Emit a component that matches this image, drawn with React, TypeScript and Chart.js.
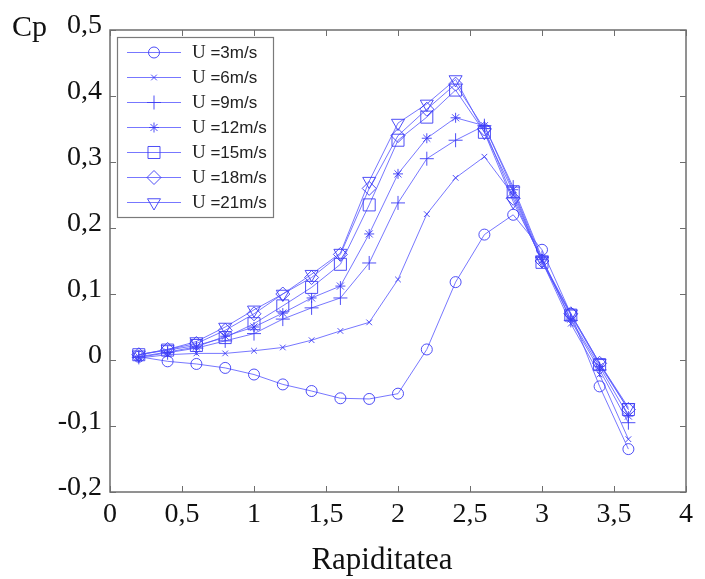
import React, { useEffect, useRef } from "react";
import { Chart, registerables } from "chart.js";
import { drawPoint } from "chart.js/helpers";

Chart.register(...registerables);

const rapiditatea = [0.2, 0.4, 0.6, 0.8, 1.0, 1.2, 1.4, 1.6, 1.8, 2.0, 2.2, 2.4, 2.6, 2.8, 3.0, 3.2, 3.4, 3.6];

const u3 = [0.005, -0.002, -0.006, -0.012, -0.022, -0.037, -0.047, -0.058, -0.059, -0.051, 0.016, 0.118, 0.19, 0.22, 0.167, 0.07, -0.04, -0.135];
const u6 = [0.003, 0.008, 0.01, 0.01, 0.014, 0.019, 0.03, 0.044, 0.057, 0.122, 0.221, 0.276, 0.308, 0.25, 0.15, 0.055, -0.022, -0.12];
const u9 = [0.004, 0.011, 0.018, 0.029, 0.04, 0.062, 0.079, 0.094, 0.147, 0.238, 0.305, 0.333, 0.355, 0.262, 0.155, 0.06, -0.015, -0.095];
const u12 = [0.005, 0.012, 0.02, 0.036, 0.05, 0.071, 0.094, 0.112, 0.191, 0.282, 0.336, 0.367, 0.355, 0.258, 0.152, 0.062, -0.01, -0.085];
const u15 = [0.008, 0.015, 0.022, 0.034, 0.055, 0.082, 0.11, 0.145, 0.235, 0.333, 0.368, 0.409, 0.345, 0.255, 0.148, 0.068, -0.007, -0.075];
const u18 = [0.008, 0.016, 0.025, 0.045, 0.07, 0.1, 0.125, 0.16, 0.26, 0.34, 0.38, 0.418, 0.35, 0.245, 0.15, 0.07, -0.005, -0.075];
const u21 = [0.008, 0.016, 0.028, 0.05, 0.076, 0.1, 0.13, 0.162, 0.271, 0.359, 0.388, 0.425, 0.345, 0.24, 0.152, 0.07, -0.005, -0.072];

const seriesLabels = ["U =3m/s", "U =6m/s", "U =9m/s", "U =12m/s", "U =15m/s", "U =18m/s", "U =21m/s"];
const seriesValues = [u3, u6, u9, u12, u15, u18, u21];

const xTickValues = [0, 0.5, 1, 1.5, 2, 2.5, 3, 3.5, 4];
const yTickValues = [-0.2, -0.1, 0, 0.1, 0.2, 0.3, 0.4, 0.5];
const xTitle = "Rapiditatea";
const yTitle = "Cp";

const markerStyles = [
  { pointStyle: "circle", radius: 5.5, rotation: 0 },
  { pointStyle: "crossRot", radius: 4, rotation: 0 },
  { pointStyle: "cross", radius: 7, rotation: 0 },
  { pointStyle: "star", radius: 5, rotation: 0 },
  { pointStyle: "rect", radius: 8.5, rotation: 0 },
  { pointStyle: "rectRot", radius: 7, rotation: 0 },
  { pointStyle: "triangle", radius: 7.5, rotation: 180 },
];

const LINE = "rgba(85,85,255,0.8)";
const MARK = "rgba(60,60,245,0.9)";
const SERIF = "'Liberation Serif', 'Times New Roman', serif";
const SANS = "'Liberation Sans', Arial, sans-serif";

const fmt = (v: number) => {
  const r = Math.round(v * 10) / 10;
  return String(r).replace(".", ",");
};

const framePlugin = {
  id: "frame",
  afterDraw(chart: any) {
    const ctx = chart.ctx;
    const { left, right, top, bottom } = chart.chartArea;
    const xs = chart.scales.x;
    const ys = chart.scales.y;
    ctx.save();
    // box
    ctx.strokeStyle = "#6e6e6e";
    ctx.lineWidth = 1.5;
    ctx.strokeRect(left, top, right - left, bottom - top);
    // inward ticks
    ctx.lineWidth = 1;
    ctx.beginPath();
    const tl = 6;
    xTickValues.forEach((v) => {
      const px = Math.round(xs.getPixelForValue(v)) + 0.5;
      ctx.moveTo(px, bottom);
      ctx.lineTo(px, bottom - tl);
      ctx.moveTo(px, top);
      ctx.lineTo(px, top + tl);
    });
    yTickValues.forEach((v) => {
      const py = Math.round(ys.getPixelForValue(v)) + 0.5;
      ctx.moveTo(left, py);
      ctx.lineTo(left + tl, py);
      ctx.moveTo(right, py);
      ctx.lineTo(right - tl, py);
    });
    ctx.stroke();

    // legend
    const lx = 117, ly = 37, lw = 156, lh = 180;
    ctx.fillStyle = "#ffffff";
    ctx.fillRect(lx, ly, lw, lh);
    ctx.strokeStyle = "#7a7a7a";
    ctx.lineWidth = 1.2;
    ctx.strokeRect(lx + 0.5, ly + 0.5, lw, lh);
    seriesLabels.forEach((label, i) => {
      const cy = 52.5 + i * 25;
      ctx.strokeStyle = LINE;
      ctx.lineWidth = 1;
      ctx.beginPath();
      ctx.moveTo(127, cy);
      ctx.lineTo(181, cy);
      ctx.stroke();
      const m = markerStyles[i];
      ctx.strokeStyle = MARK;
      ctx.fillStyle = "rgba(0,0,0,0)";
      ctx.lineWidth = 1;
      drawPoint(ctx, { pointStyle: m.pointStyle, radius: m.radius, rotation: m.rotation, borderWidth: 1 }, 154, cy);
      ctx.fillStyle = "#222";
      ctx.textBaseline = "middle";
      ctx.textAlign = "left";
      const first = label.slice(0, 1);
      const rest = label.slice(1);
      ctx.font = `19px ${SERIF}`;
      ctx.fillText(first, 192, cy + 1);
      const w = ctx.measureText(first).width;
      ctx.font = `17px ${SANS}`;
      ctx.fillText(rest, 192 + w, cy + 1);
    });

    // titles
    ctx.fillStyle = "#111";
    ctx.font = `30px ${SERIF}`;
    ctx.textAlign = "left";
    ctx.textBaseline = "middle";
    ctx.fillText(yTitle, 12, 28);
    ctx.font = `31px ${SERIF}`;
    ctx.textAlign = "center";
    ctx.fillText(xTitle, 382, 561);
    ctx.restore();
  },
};

export default function App() {
  const ref = useRef<HTMLCanvasElement | null>(null);
  useEffect(() => {
    if (!ref.current) return;
    const datasets = seriesValues.map((vals, i) => ({
      label: seriesLabels[i],
      data: vals.map((y, j) => ({ x: rapiditatea[j], y })),
      borderColor: LINE,
      borderWidth: 1,
      backgroundColor: "rgba(0,0,0,0)",
      pointStyle: markerStyles[i].pointStyle as any,
      pointRadius: markerStyles[i].radius,
      pointRotation: markerStyles[i].rotation,
      pointBorderColor: MARK,
      pointBackgroundColor: "rgba(0,0,0,0)",
      pointBorderWidth: 1,
      tension: 0,
      fill: false,
    }));
    const chart = new Chart(ref.current, {
      type: "line",
      data: { datasets },
      options: {
        animation: false,
        responsive: false,
        events: [],
        layout: { padding: { left: 0, top: 30, right: 19, bottom: 0 } },
        plugins: { legend: { display: false }, tooltip: { enabled: false } },
        scales: {
          x: {
            type: "linear",
            min: 0,
            max: 4,
            afterFit: (s: any) => { s.height = 87; },
            afterBuildTicks: (s: any) => { s.ticks = xTickValues.map((v) => ({ value: v })); },
            grid: { display: false, drawTicks: false, tickLength: 0 },
            border: { display: false },
            ticks: {
              callback: (v: any) => fmt(Number(v)),
              font: { family: SERIF, size: 28 },
              color: "#111",
              padding: 6,
              maxRotation: 0,
              autoSkip: false,
            },
          },
          y: {
            type: "linear",
            min: -0.2,
            max: 0.5,
            afterFit: (s: any) => { s.width = 110; },
            afterBuildTicks: (s: any) => { s.ticks = yTickValues.map((v) => ({ value: v })); },
            grid: { display: false, drawTicks: false, tickLength: 0 },
            border: { display: false },
            ticks: {
              callback: (v: any) => fmt(Number(v)),
              font: { family: SERIF, size: 28 },
              color: "#111",
              padding: 8,
              labelOffset: -4,
              autoSkip: false,
            },
          },
        },
      },
      plugins: [framePlugin],
    });
    return () => chart.destroy();
  }, []);
  return (
    <div style={{ position: "fixed", left: 0, top: 0, width: 705, height: 579, background: "#fff" }}>
      <canvas ref={ref} width={705} height={579} />
    </div>
  );
}
